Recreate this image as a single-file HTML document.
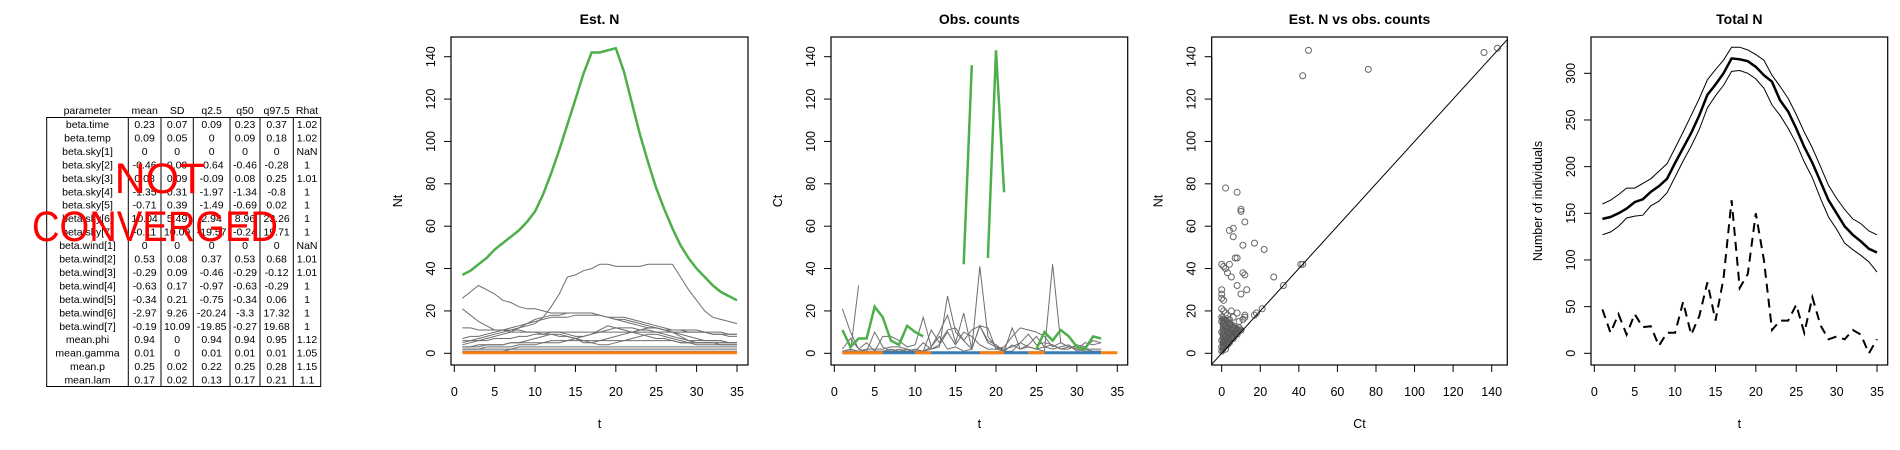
<!DOCTYPE html>
<html><head><meta charset="utf-8"><style>
html,body{margin:0;padding:0;background:#fff;width:1900px;height:450px;overflow:hidden}
svg text{font-family:"Liberation Sans",Arial,sans-serif}
</style></head><body>
<svg id="root" width="1900" height="450" viewBox="0 0 1900 450" xmlns="http://www.w3.org/2000/svg">
<g id="table"></g>
<g id="p1"></g>
<g id="p2"></g>
<g id="p3"></g>
<g id="p4"></g>
</svg>
<script>
const tableHeader=["parameter","mean","SD","q2.5","q50","q97.5","Rhat"];
const tableRows=[
["beta.time","0.23","0.07","0.09","0.23","0.37","1.02"],
["beta.temp","0.09","0.05","0","0.09","0.18","1.02"],
["beta.sky[1]","0","0","0","0","0","NaN"],
["beta.sky[2]","-0.46","0.09","-0.64","-0.46","-0.28","1"],
["beta.sky[3]","0.08","0.09","-0.09","0.08","0.25","1.01"],
["beta.sky[4]","-1.35","0.31","-1.97","-1.34","-0.8","1"],
["beta.sky[5]","-0.71","0.39","-1.49","-0.69","0.02","1"],
["beta.sky[6]","10.04","5.49","2.94","8.96","23.26","1"],
["beta.sky[7]","-0.11","10.09","-19.57","-0.24","19.71","1"],
["beta.wind[1]","0","0","0","0","0","NaN"],
["beta.wind[2]","0.53","0.08","0.37","0.53","0.68","1.01"],
["beta.wind[3]","-0.29","0.09","-0.46","-0.29","-0.12","1.01"],
["beta.wind[4]","-0.63","0.17","-0.97","-0.63","-0.29","1"],
["beta.wind[5]","-0.34","0.21","-0.75","-0.34","0.06","1"],
["beta.wind[6]","-2.97","9.26","-20.24","-3.3","17.32","1"],
["beta.wind[7]","-0.19","10.09","-19.85","-0.27","19.68","1"],
["mean.phi","0.94","0","0.94","0.94","0.95","1.12"],
["mean.gamma","0.01","0","0.01","0.01","0.01","1.05"],
["mean.p","0.25","0.02","0.22","0.25","0.28","1.15"],
["mean.lam","0.17","0.02","0.13","0.17","0.21","1.1"]];

const tSeq=[1,2,3,4,5,6,7,8,9,10,11,12,13,14,15,16,17,18,19,20,21,22,23,24,25,26,27,28,29,30,31,32,33,34,35];
const estGreen=[37,39,42,45,49,52,55,58,62,67,75,85,96,108,120,132,142,142,143,144,133,118,103,90,78,68,59,51,45,40,36,32,29,27,25];
const estGray=[
[26,29,32,30,28,25,24,22,21,21,20,19,19,19,19,19,19,18,17,17,17,16,15,14,13,12,11,11,11,11,10,10,10,9,9],
[5,6,7,8,9,10,11,12,13,14,17,22,28,36,37,39,40,42,42,41,41,41,41,42,42,42,42,36,30,25,20,17,16,15,14],
[21,18,15,13,11,11,10,10,10,10,9,9,8,8,7,6,5,4,4,5,6,7,8,9,9,8,7,6,5,5,5,5,4,4,4],
[12,12,11,11,11,11,11,11,10,10,10,10,10,10,10,10,10,10,10,10,10,10,10,10,10,10,10,10,10,10,10,9,9,9,9],
[7,8,8,9,10,11,12,13,14,15,16,17,17,17,18,18,18,18,17,16,16,15,14,13,12,11,11,11,10,10,10,9,9,8,8],
[4,5,6,7,8,9,10,12,14,16,17,18,18,19,19,19,19,18,17,16,15,14,13,12,12,11,10,9,8,7,6,6,6,5,5],
[3,3,3,4,4,4,5,5,6,7,8,9,9,8,7,5,5,6,7,8,9,10,11,12,12,11,10,8,6,5,5,5,5,5,5],
[6,6,6,6,7,7,7,8,8,9,9,10,10,9,8,8,9,10,11,12,12,12,11,11,10,9,8,7,6,6,6,6,6,5,5],
[2,2,2,3,3,3,3,4,4,4,5,5,5,6,7,8,9,11,13,12,11,10,9,8,7,7,6,5,5,4,4,4,4,4,4],
[3,3,4,4,4,4,5,5,5,5,5,6,6,6,6,6,6,6,6,6,6,6,6,6,6,6,6,5,5,5,5,5,5,5,5],
[2,2,2,2,2,2,2,3,3,3,3,3,3,3,3,3,3,3,3,3,3,3,3,3,3,3,3,3,3,3,3,3,3,3,3],
[1,1,1,1,1,1,2,2,2,2,2,2,2,2,2,2,2,2,2,2,2,2,2,2,2,2,2,2,2,2,2,2,2,2,2],
[1,1,1,1,1,1,1,1,1,1,1,1,1,1,1,1,1,1,1,1,1,1,1,1,1,1,1,1,1,1,1,1,1,1,1]];
const estOrange=[0,0,0,0,0,0,0,0,0,0,0,0,0,0,0,0,0,0,0,0,0,0,0,0,0,0,0,0,0,0,0,0,0,0,0];

const obsGreen=[11,3,7,7,22,17,6,4,13,10,8,null,null,null,null,42,136,null,45,143,76,null,null,null,2,10,6,11,8,3,2,8,7,null,null];
const obsGray=[
[21,10,2,1,1,1,2,1,1,1,1,2,3,27,10,6,2,41,8,3,2,3,5,3,2,1,42,5,3,2,1,1,1,null,null],
[1,1,32,null,null,null,null,null,null,null,null,null,null,null,null,null,null,null,null,null,null,null,null,null,null,null,null,null,null,null,null,null,null,null,null],
[2,7,2,5,1,8,8,6,3,4,17,3,10,18,5,19,2,13,5,3,1,12,2,4,8,3,4,2,3,3,2,1,1,null,null],
[1,1,1,1,10,3,1,1,2,1,1,11,5,11,12,6,11,13,12,2,3,8,12,11,10,8,3,5,3,2,5,4,5,null,null],
[1,2,1,2,2,2,3,3,2,1,5,2,4,10,4,10,8,4,2,2,1,1,5,9,4,5,4,2,2,4,3,6,5,null,null],
[0,1,1,0,1,1,1,2,1,2,1,3,8,2,3,1,2,13,6,4,1,4,2,3,2,3,2,3,4,1,2,2,2,null,null]];
const obsBlue=[0,0,0,0,0,0,0,0,0,0,0,0,0,0,0,0,0,0,0,0,0,0,0,0,0,0,0,0,0,0,0,0,0,null,null];
const obsOrange=[0,0,0,0,0,0,null,null,null,0,0,0,null,null,null,null,null,0,0,0,0,null,null,0,0,0,null,null,null,null,null,null,0,0,0];

const scatterCt=[45,42,76,136,143,2,8,10,10,12,4,6,6,11,17,22,7,8,0,1,2,4,3,5,11,12,27,32,8,13,10,0,0,0,1,41,42,21,18,17,12,12,11,0,1,2,3,5,8,6,4,9,0,0,1,2,3,4,5,6,7,8,9,10,0,1,2,3,4,5,6,7,0,1,2,3,0,1,0,2,4,6,8,10];
const scatterNt=[143,131,134,142,144,78,76,68,67,62,58,59,55,51,52,49,45,45,42,41,40,42,38,36,38,37,36,32,32,30,28,30,28,26,25,42,42,21,19,18,18,17,16,21,20,19,18,20,19,17,16,15,17,15,14,13,12,14,11,12,10,11,12,11,10,9,8,10,9,7,8,9,6,5,6,4,3,3,1,2,5,7,9,11];

const totMean=[144,146,150,155,162,165,173,179,187,204,220,236,255,277,288,300,316,315,313,307,298,291,271,259,241,221,204,184,164,150,136,127,120,112,108];
const totUpper=[160,164,170,177,177,182,187,195,203,220,237,255,273,293,304,314,328,328,325,320,314,298,286,273,256,237,220,200,180,166,154,144,139,131,127];
const totLower=[127,130,136,145,147,148,158,163,172,189,206,222,240,263,276,287,302,303,300,294,284,266,255,241,225,205,188,166,146,133,118,111,105,98,87];
const totCounts=[47,22,42,20,42,28,29,8,22,22,55,20,40,76,35,80,164,70,85,150,100,25,35,35,52,22,60,30,15,18,15,25,20,0,15];

const xTicksT=[0,5,10,15,20,25,30,35];
const yTicks140=[0,20,40,60,80,100,120,140];
const xTicks140=[0,20,40,60,80,100,120,140];
const yTicksTot=[0,50,100,150,200,250,300];

const NS="http://www.w3.org/2000/svg";
function mk(parent,tag,attrs,txt){const e=document.createElementNS(NS,tag);for(const k in attrs)e.setAttribute(k,attrs[k]);if(txt!==undefined)e.textContent=txt;parent.appendChild(e);return e;}
function lin(d0,d1,r0,r1){return v=>r0+(v-d0)*(r1-r0)/(d1-d0);}

// table
(function(){
  const g=document.getElementById('table');
  const cols=[46.7,128.3,161,193.3,230,260,293.3,320.7];
  const top=117.5,rh=13.45,n=tableRows.length;
  tableHeader.forEach((h,i)=>{const t=mk(g,'text',{x:(cols[i]+cols[i+1])/2,y:114,'text-anchor':'middle','font-size':'10.5'},h);
  
  });
  const b=mk(g,'rect',{x:cols[0],y:top,width:cols[7]-cols[0],height:rh*n,fill:'none',stroke:'#000','stroke-width':1});
  
  
  for(let i=1;i<7;i++)mk(g,'line',{x1:cols[i],x2:cols[i],y1:top,y2:top+rh*n,stroke:'#000','stroke-width':1});
  tableRows.forEach((r,ri)=>{r.forEach((c,ci)=>{const t=mk(g,'text',{x:(cols[ci]+cols[ci+1])/2,y:top+rh*ri+10.5,'text-anchor':'middle','font-size':'10.5'},c);
    
    });});
  const a=mk(g,'text',{x:160,y:193,'text-anchor':'middle','font-size':'43',fill:'#ff0000'},'NOT');
  
  
  const c=mk(g,'text',{x:155,y:241,'text-anchor':'middle','font-size':'43',fill:'#ff0000',textLength:246,lengthAdjust:'spacingAndGlyphs'},'CONVERGED');
  
  
})();

function frame(g,o){
  const r=mk(g,'rect',{x:o.L,y:37,width:o.R-o.L,height:328,fill:'none',stroke:'#000','stroke-width':1.2});
  
  
  const tt=mk(g,'text',{x:(o.L+o.R)/2,y:24,'text-anchor':'middle','font-size':'14','font-weight':'bold'},o.title);
  
  
  // x axis
  mk(g,'line',{x1:o.sx(o.xt[0]),x2:o.sx(o.xt[o.xt.length-1]),y1:365,y2:365,stroke:'#000'});
  o.xt.forEach(v=>{const x=o.sx(v);mk(g,'line',{x1:x,x2:x,y1:365,y2:372,stroke:'#000'});
    const t=mk(g,'text',{x:x,y:396,'text-anchor':'middle','font-size':'12.5'},v);
    
    });
  // y axis
  mk(g,'line',{x1:o.L,x2:o.L,y1:o.sy(o.yt[0]),y2:o.sy(o.yt[o.yt.length-1]),stroke:'#000'});
  o.yt.forEach(v=>{const y=o.sy(v);mk(g,'line',{x1:o.L-7,x2:o.L,y1:y,y2:y,stroke:'#000'});
    const t=mk(g,'text',{x:o.L-16,y:y,'text-anchor':'middle','font-size':'12.5',transform:`rotate(-90 ${o.L-16} ${y})`},v);
    
    });
  const xl=mk(g,'text',{x:(o.L+o.R)/2,y:428,'text-anchor':'middle','font-size':'12.5'},o.xlab);
  
  
  const yx=o.L-49;
  const yl=mk(g,'text',{x:yx,y:201,'text-anchor':'middle','font-size':'12.5',transform:`rotate(-90 ${yx} 201)`},o.ylab);
  
  
}
function path(g,xs,ys,sx,sy,style,name){
  let d='',pen=false;
  for(let i=0;i<xs.length;i++){const v=ys[i];if(v===null||v===undefined){pen=false;continue;}
    d+=(pen?'L':'M')+sx(xs[i]).toFixed(1)+' '+sy(v).toFixed(1);pen=true;}
  const p=mk(g,'path',Object.assign({d:d,fill:'none'},style));
  
  
  return p;
}
const sy140=lin(0,140,353.3,56.7);

// panel 1
(function(){
  const g=document.getElementById('p1');
  const sx=lin(0,35,454.3,737);
  const o={L:451,R:748,sx:sx,sy:sy140,xt:xTicksT,yt:yTicks140,title:'Est. N',xlab:'t',ylab:'Nt'};
  estGray.forEach(s=>path(g,tSeq,s,sx,sy140,{stroke:'#6e6e6e','stroke-width':1},'site-line'));
  path(g,tSeq,estOrange,sx,v=>sy140(v)-0.5,{stroke:'#ff7f0e','stroke-width':3},'orange-site-line');
  path(g,tSeq,estGreen,sx,sy140,{stroke:'#4daf4a','stroke-width':2.5},'green-site-line');
  frame(g,o);
})();
// panel 2
(function(){
  const g=document.getElementById('p2');
  const sx=lin(0,35,834.3,1117.3);
  const o={L:831,R:1127.7,sx:sx,sy:sy140,xt:xTicksT,yt:yTicks140,title:'Obs. counts',xlab:'t',ylab:'Ct'};
  obsGray.forEach(s=>path(g,tSeq,s,sx,sy140,{stroke:'#6e6e6e','stroke-width':1},'count-line'));
  path(g,tSeq,obsBlue,sx,v=>sy140(v)-0.5,{stroke:'#377eb8','stroke-width':3},'blue-count-line');
  path(g,tSeq,obsOrange,sx,v=>sy140(v)-0.5,{stroke:'#ff7f0e','stroke-width':3},'orange-count-line');
  path(g,tSeq,obsGreen,sx,sy140,{stroke:'#4daf4a','stroke-width':2.5},'green-count-line');
  frame(g,o);
})();
// panel 3
(function(){
  const g=document.getElementById('p3');
  const sx=lin(0,140,1221.7,1491.7);
  const o={L:1211.7,R:1507.3,sx:sx,sy:sy140,xt:xTicks140,yt:yTicks140,title:'Est. N vs obs. counts',xlab:'Ct',ylab:'Nt'};
  scatterCt.forEach((c,i)=>{const p=mk(g,'circle',{cx:sx(c),cy:sy140(scatterNt[i]),r:3,fill:'none',stroke:'#666','stroke-width':1});
    
    });
  // dense cluster fill near origin
  const cl=mk(g,'polygon',{points:`${sx(-1)},${sy140(0)} ${sx(-1)},${sy140(18)} ${sx(3)},${sy140(17)} ${sx(10)},${sy140(12)} ${sx(12)},${sy140(12)} ${sx(1)},${sy140(0)}`,fill:'#555',opacity:0.85});
  
  
  const l=mk(g,'line',{x1:1211.7,y1:sy140(sx.inv?0:(1211.7-1221.7)/(270/140)),x2:1507.3,y2:sy140((1507.3-1221.7)/(270/140)),stroke:'#000','stroke-width':1});
  
  
  frame(g,o);
})();
// panel 4
(function(){
  const g=document.getElementById('p4');
  const sx=lin(0,35,1594.3,1877);
  const sy=lin(0,300,353.3,73.3);
  const o={L:1591,R:1887.7,sx:sx,sy:sy,xt:xTicksT,yt:yTicksTot,title:'Total N',xlab:'t',ylab:'Number of individuals'};
  path(g,tSeq,totUpper,sx,sy,{stroke:'#000','stroke-width':1},'upper-ci-line');
  path(g,tSeq,totLower,sx,sy,{stroke:'#000','stroke-width':1},'lower-ci-line');
  path(g,tSeq,totMean,sx,sy,{stroke:'#000','stroke-width':2.5},'mean-total-line');
  path(g,tSeq,totCounts,sx,sy,{stroke:'#000','stroke-width':2,'stroke-dasharray':'9 6'},'total-counts-line');
  frame(g,o);
})();
</script>
</body></html>
